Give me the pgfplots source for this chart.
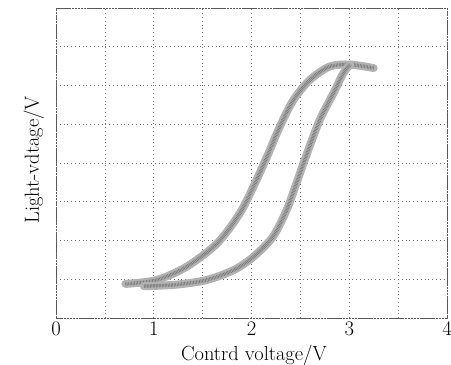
\documentclass[border=0pt]{standalone}
\usepackage{pgfplots}
\pgfplotsset{compat=1.18}
\begin{document}
\begin{tikzpicture}[x=1bp,y=1bp]
\begin{axis}[
  scale only axis,
  width=391bp, height=310bp,
  xmin=0, xmax=4, ymin=0, ymax=8,
  xtick={0,1,2,3,4},
  minor xtick={0.5,1.5,2.5,3.5},
  ytick={1,2,3,4,5,6,7},
  yticklabels={},
  major tick length=0pt, minor tick length=0pt,
  grid=both,
  major grid style={black!55, line width=0.6bp, dash pattern=on 0.8bp off 3bp},
  minor grid style={black!55, line width=0.6bp, dash pattern=on 0.8bp off 3bp},
  axis line style={black!65, line width=0.8bp, dash pattern=on 2.5bp off 0.6bp},
  tick label style={font=\fontsize{19.5}{19.5}\selectfont},
  xticklabel style={anchor=base, yshift=-17bp},
  label style={font=\fontsize{20.5}{20.5}\selectfont},
  xlabel={Contrd voltage/V},
  ylabel={Light-vdtage/V},
  xlabel style={at={(rel axis cs:0.506,0)}, anchor=base, yshift=-42bp},
  ylabel style={at={(rel axis cs:0,0.51)}, anchor=base, yshift=17bp},
]
\coordinate (O) at (rel axis cs:0,0);
% upper-left branch
\addplot[smooth, line width=8bp, color=black!30, line cap=round] coordinates {
 (0.71,0.88) (1.03,0.98) (1.34,1.33) (1.65,1.93) (1.88,2.70) (2.02,3.39)
 (2.16,4.17) (2.29,4.94) (2.43,5.63) (2.60,6.15) (2.80,6.49) (3.01,6.54) (3.25,6.45)
};
\addplot[smooth, line width=3.5bp, color=black!55, dash pattern=on 0.6bp off 0.9bp] coordinates {
 (0.71,0.88) (1.03,0.98) (1.34,1.33) (1.65,1.93) (1.88,2.70) (2.02,3.39)
 (2.16,4.17) (2.29,4.94) (2.43,5.63) (2.60,6.15) (2.80,6.49) (3.01,6.54) (3.25,6.45)
};
% lower-right branch
\addplot[smooth, line width=8bp, color=black!30, line cap=round] coordinates {
 (0.90,0.82) (1.23,0.86) (1.54,0.98) (1.82,1.24) (2.02,1.58) (2.22,2.10)
 (2.36,2.79) (2.46,3.48) (2.57,4.26) (2.70,5.12) (2.84,5.81) (2.94,6.32) (3.01,6.54)
};
\addplot[smooth, line width=3.5bp, color=black!55, dash pattern=on 0.6bp off 0.9bp] coordinates {
 (0.90,0.82) (1.23,0.86) (1.54,0.98) (1.82,1.24) (2.02,1.58) (2.22,2.10)
 (2.36,2.79) (2.46,3.48) (2.57,4.26) (2.70,5.12) (2.84,5.81) (2.94,6.32) (3.01,6.54)
};
\end{axis}
\pgfresetboundingbox
\path (O) ++(-56bp,-47bp) rectangle ++(451bp,365bp);
\end{tikzpicture}
\end{document}
